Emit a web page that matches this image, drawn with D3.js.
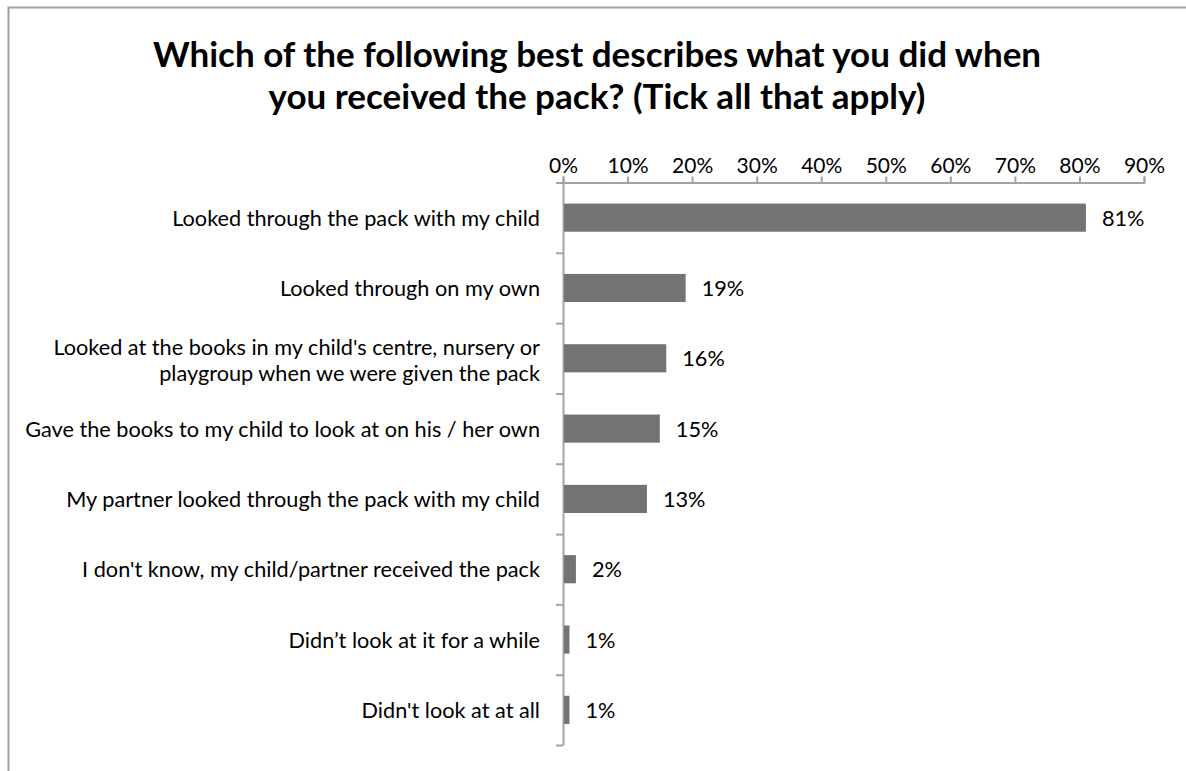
<!DOCTYPE html>
<html>
<head>
<meta charset="utf-8">
<script src="https://cdn.jsdelivr.net/npm/d3@7"></script>
<style>
  html, body { margin: 0; padding: 0; background: #fff; }
  svg { display: block; }
  text { font-family: Lato, "Open Sans", sans-serif; fill: #000; }
</style>
</head>
<body>
<svg id="chart" width="1186" height="771"></svg>
<script>
// Survey responses (percent of respondents)
const categories = [
  ["Looked through the pack with my child"],
  ["Looked through on my own"],
  ["Looked at the books in my child's centre, nursery or", "playgroup when we were given the pack"],
  ["Gave the books to my child to look at on his / her own"],
  ["My partner looked through the pack with my child"],
  ["I don't know, my child/partner received the pack"],
  ["Didn\u2019t look at it for a while"],
  ["Didn't look at at all"]
];
const values = [81, 19, 16, 15, 13, 2, 1, 1];
const tickValues = [0, 10, 20, 30, 40, 50, 60, 70, 80, 90];
const titleLines = [
  "Which of the following best describes what you did when",
  "you received the pack? (Tick all that apply)"
];

const svg = d3.select("#chart");
const axisColor = "#a3a3a3";
const barColor = "#737373";
const labelSize = 21.7;

// chart frame
svg.append("rect")
  .attr("x", 8.5).attr("y", 7.5)
  .attr("width", 1200).attr("height", 800)
  .attr("fill", "none")
  .attr("stroke", "#a0a0a0")
  .attr("stroke-width", 2);

// title
svg.append("text")
  .attr("text-anchor", "middle")
  .attr("font-size", 35)
  .attr("font-weight", "bold")
  .selectAll("tspan")
  .data(titleLines)
  .join("tspan")
  .attr("x", 597)
  .attr("y", (d, i) => 67 + i * 42)
  .text(d => d);

const plotLeft = 563, plotRight = 1144, plotTop = 182.5, plotBottom = 745;

const x = d3.scaleLinear().domain([0, 90]).range([plotLeft, plotRight]);
const y = d3.scaleBand()
  .domain(d3.range(categories.length))
  .range([plotTop, plotBottom])
  .paddingInner(0.6)
  .paddingOuter(0.3);

// top percentage axis
const xAxis = svg.append("g")
  .attr("transform", `translate(0,${plotTop})`)
  .call(d3.axisTop(x).tickValues(tickValues).tickFormat(d => d + "%").tickSize(6).tickPadding(4));
xAxis.select(".domain").attr("stroke", axisColor).attr("stroke-width", 2);
xAxis.selectAll(".tick line").attr("stroke", axisColor).attr("stroke-width", 2);
xAxis.selectAll(".tick text")
  .attr("font-family", "Lato, sans-serif")
  .attr("font-size", 21)
  .attr("fill", "#000");

// category axis: ticks at band boundaries
const yEdges = d3.scaleLinear().domain([0, categories.length]).range([plotTop, plotBottom]);
const yAxis = svg.append("g")
  .attr("transform", `translate(${plotLeft},0)`)
  .call(d3.axisLeft(yEdges).ticks(categories.length).tickFormat("").tickSize(7).tickSizeOuter(0));
yAxis.select(".domain").attr("stroke", axisColor).attr("stroke-width", 2);
yAxis.selectAll(".tick line").attr("stroke", axisColor).attr("stroke-width", 2);

// bars
svg.append("g")
  .selectAll("rect")
  .data(values)
  .join("rect")
  .attr("x", x(0) + 1)
  .attr("y", (d, i) => y(i))
  .attr("width", d => x(d) - x(0) - 1)
  .attr("height", y.bandwidth())
  .attr("fill", barColor);

// value labels
svg.append("g")
  .selectAll("text")
  .data(values)
  .join("text")
  .attr("x", d => x(d) + 16)
  .attr("y", (d, i) => y(i) + y.bandwidth() / 2)
  .attr("dy", "0.37em")
  .attr("font-size", labelSize)
  .text(d => d + "%");

// category labels (right-aligned, may wrap to two lines)
const labels = svg.append("g")
  .selectAll("text")
  .data(categories)
  .join("text")
  .attr("text-anchor", "end")
  .attr("font-size", labelSize);
labels.selectAll("tspan")
  .data((d, i) => d.map((line, j) => ({ line, j, n: d.length, i })))
  .join("tspan")
  .attr("x", 540)
  .attr("y", d => y(d.i) + y.bandwidth() / 2 + (d.n > 1 ? 2 : 0) + (d.j - (d.n - 1) / 2) * 26)
  .attr("dy", "0.37em")
  .text(d => d.line);
</script>
</body>
</html>
